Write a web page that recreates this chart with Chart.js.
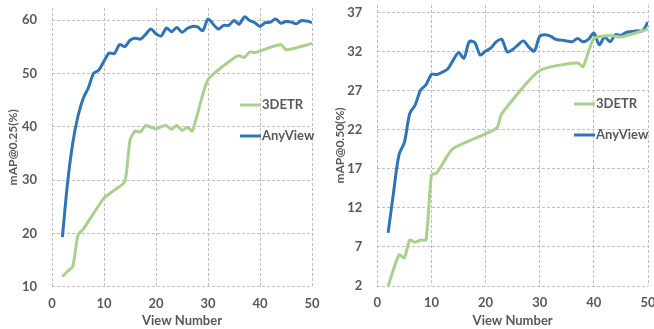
<!DOCTYPE html>
<html>
<head>
<meta charset="utf-8">
<script src="https://cdn.jsdelivr.net/npm/chart.js@4.4.0/dist/chart.umd.min.js"></script>
<style>
html, body { margin: 0; padding: 0; background: #fff; }
#wrap { display: flex; width: 654px; height: 329px; }
canvas { display: block; }
</style>
</head>
<body>
<div id="wrap">
  <canvas id="chart25" width="327" height="329"></canvas>
  <canvas id="chart50" width="327" height="329"></canvas>
</div>
<script>
// mAP@0.25 - AnyView (views 2..50)
const anyview25 = [
  [2, 19.3], [3, 29.5], [4, 37.0], [5, 42.0], [6, 45.3], [7, 47.3], [8, 50.0], [9, 50.6], [10, 52.3],
  [11, 53.8], [12, 53.7], [13, 55.4], [14, 55.0], [15, 56.2], [16, 56.6], [17, 56.4], [18, 57.3],
  [19, 58.3], [20, 57.4], [21, 57.0], [22, 58.5], [23, 57.8], [24, 58.6], [25, 57.7], [26, 58.4],
  [27, 58.8], [28, 58.7], [29, 58.0], [30, 60.2], [31, 59.2], [32, 58.3], [33, 59.0], [34, 59.0],
  [35, 59.9], [36, 59.2], [37, 60.6], [38, 59.9], [39, 59.5], [40, 58.8], [41, 59.5], [42, 59.6],
  [43, 60.2], [44, 59.4], [45, 59.7], [46, 59.6], [47, 59.3], [48, 59.9], [49, 59.8], [50, 59.5]
];
// mAP@0.25 - 3DETR
const detr25 = [
  [2, 11.9], [3, 12.9], [4, 13.8], [5, 19.7], [6, 20.8], [10, 26.6], [12, 28.1], [14, 29.7],
  [15, 37.5], [16, 39.2], [17, 39.0], [18, 40.2], [19, 39.9], [20, 39.6], [21, 40.0], [22, 40.2],
  [23, 39.5], [24, 40.2], [25, 39.3], [26, 39.9], [27, 39.2], [30, 48.8], [35, 52.9], [36, 53.3],
  [37, 53.0], [38, 54.0], [39, 53.9], [44, 55.4], [45, 54.4], [50, 55.6]
];
// mAP@0.50 - AnyView
const anyview50 = [
  [2, 8.8], [3, 14.0], [4, 18.8], [5, 20.4], [6, 24.1], [7, 25.2], [8, 27.1], [9, 27.8], [10, 29.1],
  [11, 29.1], [12, 29.4], [13, 29.8], [14, 30.9], [15, 31.9], [16, 31.2], [17, 33.3], [18, 33.2],
  [19, 31.6], [20, 32.1], [21, 32.5], [22, 33.3], [23, 33.6], [24, 32.0], [25, 32.3], [26, 32.9],
  [27, 33.4], [28, 32.6], [29, 32.1], [30, 34.0], [31, 34.2], [32, 34.0], [33, 33.6], [34, 33.5],
  [35, 33.4], [36, 33.3], [37, 33.7], [38, 33.3], [39, 33.6], [40, 34.4], [41, 32.9], [42, 33.9],
  [43, 33.3], [44, 34.2], [45, 34.1], [46, 34.5], [47, 34.6], [48, 34.7], [49, 34.7], [50, 35.8]
];
// mAP@0.50 - 3DETR
const detr50 = [
  [2, 2.0], [4, 6.0], [5, 5.6], [6, 7.9], [7, 7.6], [8, 7.9], [9, 7.9], [10, 16.2], [11, 16.5],
  [12, 17.6], [14, 19.6], [22, 22.2], [23, 24.1], [30, 29.6], [37, 30.6], [38, 30.1], [40, 33.7],
  [43, 34.1], [45, 33.9], [50, 34.9]
];

const xTicks = [0, 10, 20, 30, 40, 50];
const yTicks25 = [10, 20, 30, 40, 50, 60];
const yTicks50 = [2, 7, 12, 17, 22, 27, 32, 37];

const BLUE = '#2e75b6';
const GREEN = '#a9d18e';
const TEXT = '#595959';
const GRID = '#bfbfbf';
const FONT = 'Lato, "Liberation Sans", sans-serif';

const toPts = arr => arr.map(p => ({ x: p[0], y: p[1] }));

// legend drawn inside the plot, like the original
const innerLegend = {
  id: 'innerLegend',
  afterDraw(chart, args, opts) {
    const ctx = chart.ctx;
    const ca = chart.chartArea;
    ctx.save();
    ctx.font = 'bold 13px ' + FONT;
    ctx.fillStyle = TEXT;
    ctx.textBaseline = 'middle';
    chart.data.datasets.forEach((ds, i) => {
      const y = opts.y[i];
      const x0 = ca.right - opts.dx;
      ctx.strokeStyle = ds.borderColor;
      ctx.lineWidth = 3;
      ctx.beginPath();
      ctx.moveTo(x0, y);
      ctx.lineTo(x0 + 21, y);
      ctx.stroke();
      ctx.fillText(ds.label, x0 + 22, y);
    });
    ctx.restore();
  }
};

function makeChart(id, cfg) {
  const ctx = document.getElementById(id).getContext('2d');
  return new Chart(ctx, {
    type: 'line',
    data: {
      datasets: [
        { label: '3DETR', data: toPts(cfg.detr), borderColor: GREEN, borderWidth: 3, pointRadius: 0, fill: false, tension: 0.2 },
        { label: 'AnyView', data: toPts(cfg.anyview), borderColor: BLUE, borderWidth: 3, pointRadius: 0, fill: false, tension: 0.3 }
      ]
    },
    options: {
      responsive: false,
      animation: false,
      layout: { padding: { top: cfg.padTop, right: cfg.padRight, left: 0, bottom: 0 } },
      scales: {
        x: {
          type: 'linear',
          min: 0, max: 50,
          afterBuildTicks: s => { s.ticks = xTicks.map(v => ({ value: v })); },
          afterFit: s => { s.height = cfg.xHeight; s.paddingLeft = 0; s.paddingRight = 0; },
          grid: { color: GRID, lineWidth: 1, drawTicks: false },
          border: { display: false, dash: [3, 2] },
          ticks: { color: TEXT, font: { family: FONT, size: 13, weight: 'bold' }, padding: 9, maxRotation: 0 },
          title: { display: true, text: 'View Number', color: TEXT, font: { family: FONT, size: 13, weight: 'bold' }, padding: { top: 0, bottom: 0 } }
        },
        y: {
          min: cfg.yMin, max: cfg.yMax,
          afterBuildTicks: s => { s.ticks = cfg.yTicks.map(v => ({ value: v })); },
          afterFit: s => { s.width = cfg.yWidth; s.paddingTop = 0; s.paddingBottom = 0; },
          grid: { color: GRID, lineWidth: 1, drawTicks: false },
          border: { display: false, dash: [3, 2] },
          ticks: { color: TEXT, font: { family: FONT, size: 13, weight: 'bold' }, padding: 15 },
          title: { display: true, text: cfg.yTitle, color: TEXT, font: { family: FONT, size: 12, weight: 'bold' }, padding: { top: 6, bottom: 0 } }
        }
      },
      plugins: {
        legend: { display: false },
        tooltip: { enabled: false },
        innerLegend: { dx: cfg.legendDx, y: cfg.legendY }
      }
    },
    plugins: [innerLegend]
  });
}

makeChart('chart25', {
  anyview: anyview25, detr: detr25, yTicks: yTicks25, yMin: 10, yMax: 62.25,
  yTitle: 'mAP@0.25(%)', yWidth: 52, xHeight: 42.3, padTop: 8, padRight: 15,
  legendDx: 72, legendY: [105, 136]
});
makeChart('chart50', {
  anyview: anyview50, detr: detr50, yTicks: yTicks50, yMin: 2, yMax: 38,
  yTitle: 'mAP@0.50(%)', yWidth: 50.3, xHeight: 43, padTop: 5, padRight: 6,
  legendDx: 74, legendY: [104, 135]
});
</script>
</body>
</html>
